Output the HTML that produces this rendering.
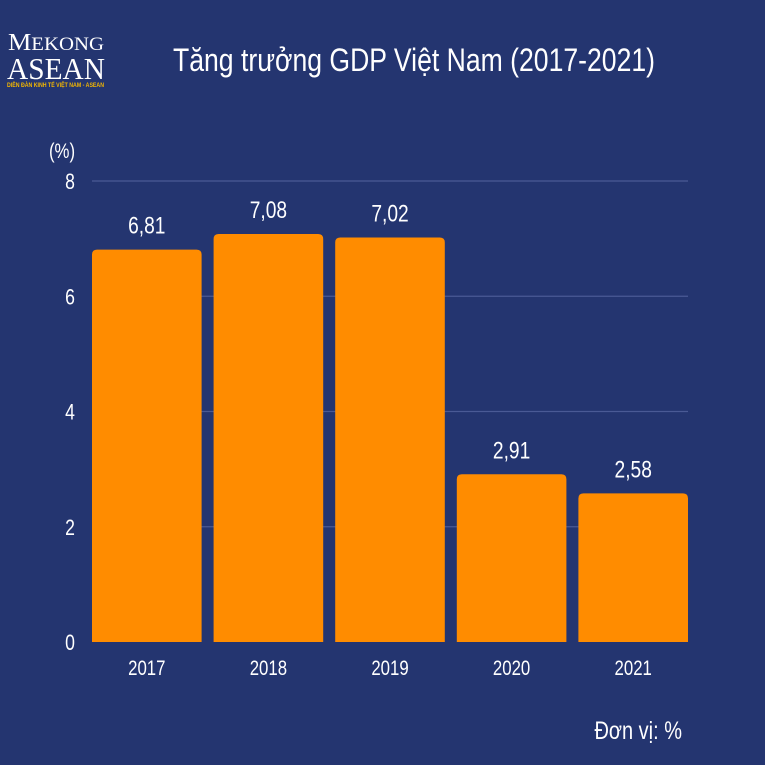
<!DOCTYPE html>
<html><head><meta charset="utf-8"><style>
html,body{margin:0;padding:0;background:#243570;}
svg{display:block;font-family:"Liberation Sans",sans-serif;}
</style></head><body>
<svg width="765" height="765" viewBox="0 0 765 765">
<rect width="765" height="765" fill="#243570"/>
<g>
<text x="8" y="50" fill="#fff" font-family="Liberation Serif,serif" font-size="24" textLength="96" lengthAdjust="spacingAndGlyphs">M<tspan font-size="19">EKONG</tspan></text>
<text x="7" y="79" fill="#fff" font-family="Liberation Serif,serif" font-size="31" textLength="98" lengthAdjust="spacingAndGlyphs">ASEAN</text>
<text x="7" y="87" fill="#f5b800" font-size="6" font-weight="bold" textLength="97" lengthAdjust="spacingAndGlyphs">DIỄN ĐÀN KINH TẾ VIỆT NAM - ASEAN</text>
</g>
<text x="173" y="71" fill="#fff" font-size="32" textLength="482" lengthAdjust="spacingAndGlyphs">Tăng trưởng GDP Việt Nam (2017-2021)</text>
<text transform="translate(62,158) scale(0.8,1)" fill="#fff" font-size="21" text-anchor="middle">(%)</text>
<g id="grid"></g><g id="bars"></g>
<text transform="translate(682,739) scale(0.8,1)" fill="#fff" font-size="25" text-anchor="end">Đơn vị: %</text>
</svg>
<script>
const categories=["2017","2018","2019","2020","2021"];
const values=[6.81,7.08,7.02,2.91,2.58];
const valueLabels=["6,81","7,08","7,02","2,91","2,58"];
const yTicks=[0,2,4,6,8];
const ns="http://www.w3.org/2000/svg";
const x0=92,x1=688,y0=642,y8=181,yMax=8;
const y=v=>y0-(v/yMax)*(y0-y8);
const band=(x1-x0+12)/categories.length;
const bw=band-12;
const xb=i=>x0+i*band;
function mk(t,a,p){const e=document.createElementNS(ns,t);for(const k in a)e.setAttribute(k,a[k]);p.appendChild(e);return e;}
const grid=document.getElementById('grid'),bars=document.getElementById('bars');
yTicks.forEach(t=>{
 if(t>0){const l=mk('line',{x1:x0,x2:x1,y1:y(t),y2:y(t),stroke:'#4a5a95','stroke-width':1.2},grid);
 
 }
 const tx=mk('text',{transform:`translate(70,${y(t)+8}) scale(0.8,1)`,fill:'#fff','font-size':22,'text-anchor':'middle'},grid);
 tx.textContent=t;
 
 
});
categories.forEach((c,i)=>{
 const r=mk('path',{d:`M${xb(i)},${y0}V${y(values[i])+5}q0,-5 5,-5H${xb(i)+bw-5}q5,0 5,5V${y0}Z`,fill:'#ff8c00'},bars);
 
 
 const v=mk('text',{transform:`translate(${xb(i)+bw/2},${y(values[i])-16}) scale(0.8,1)`,fill:'#fff','font-size':24,'text-anchor':'middle'},bars);
 v.textContent=valueLabels[i];
 
 
 const cl=mk('text',{transform:`translate(${xb(i)+bw/2},675) scale(0.8,1)`,fill:'#fff','font-size':21,'text-anchor':'middle'},bars);
 cl.textContent=c;
 
 
});
</script>
</body></html>
